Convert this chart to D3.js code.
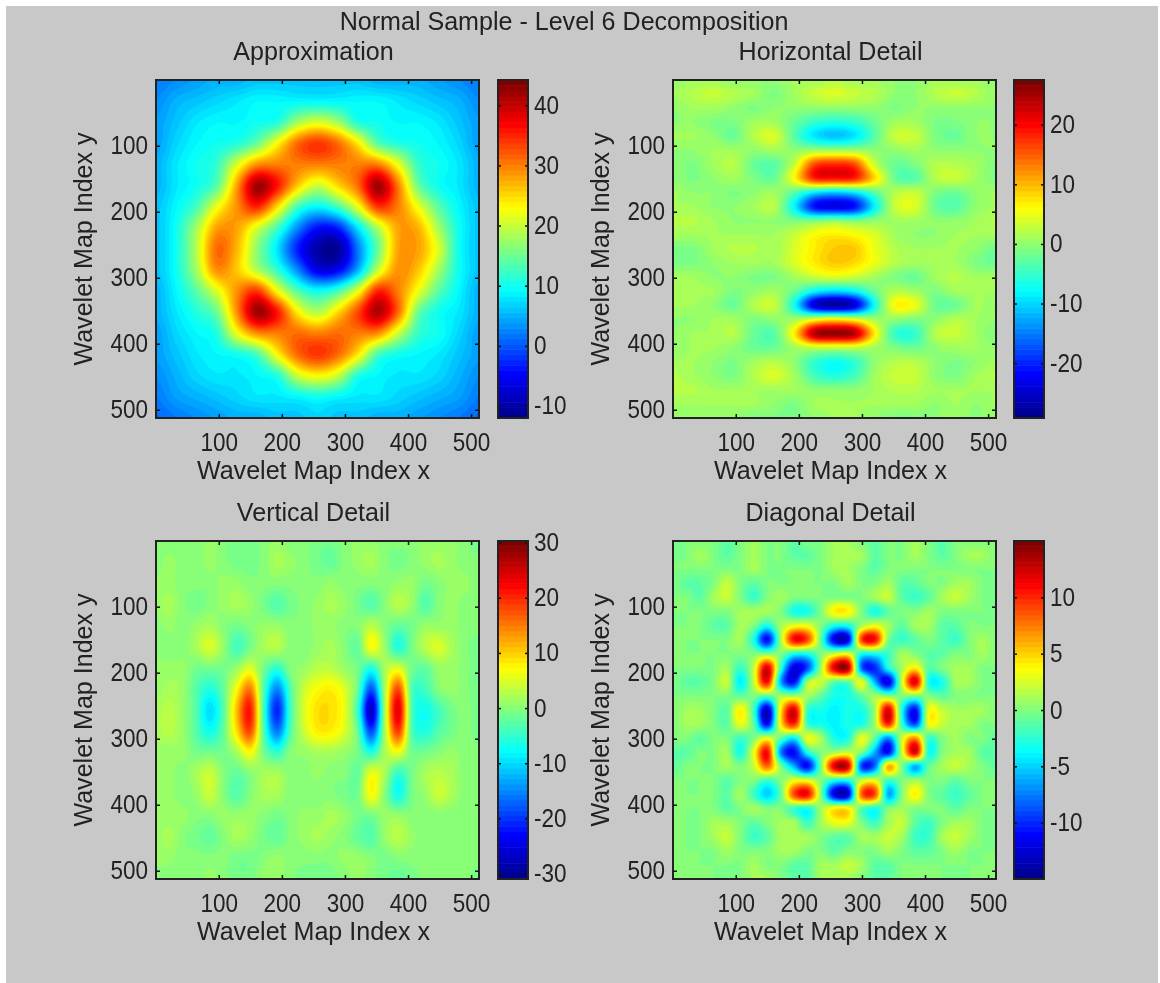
<!DOCTYPE html>
<html><head><meta charset="utf-8">
<script src="https://cdnjs.cloudflare.com/ajax/libs/d3/7.8.5/d3.min.js"></script>
<style>html,body{margin:0;padding:0;background:#fff}svg{display:block;filter:blur(0.55px)}
text{font-family:"Liberation Sans",Arial,sans-serif;fill:#222}</style></head><body>
<svg id="c" width="1160" height="983"></svg>
<script>
const figureTitle = "Normal Sample - Level 6 Decomposition";
const xLabel = "Wavelet Map Index x";
const yLabel = "Wavelet Map Index y";
const axisTicks = [100,200,300,400,500];
const panelTitles = ["Approximation","Horizontal Detail","Vertical Detail","Diagonal Detail"];
const colorTicks = [[-10,0,10,20,30,40],[-20,-10,0,10,20],[-30,-20,-10,0,10,20,30],[-10,-5,0,5,10]];
const colorRanges = [[-12,44.2],[-29.2,27.5],[-31,30.3],[-15,15]];
const jetStops = ["#00008f","#0000ff","#00ffff","#ffff00","#ff0000","#800000"];
const jetPositions = [0,0.125,0.375,0.625,0.875,1];

const approximation = [
[2,3,4,5,5,6,6,6,6,6,6,5,5,5,4,3,2],
[3,5,6,7,8,9,9,9,9,9,9,9,8,7,6,5,3],
[4,6,8,9,9,10,11,18,21,18,11,10,9,9,8,6,4],
[4,7,9,10,11,15,23,31,34,31,24,14,11,10,9,7,4],
[5,8,10,12,21,29,30,30,30,30,30,30,22,12,10,8,5],
[5,8,10,14,28,42,36,26,20,25,31,42,30,15,10,8,5],
[6,9,13,22,29,35,25,13,9,13,22,34,30,22,14,9,6],
[6,10,18,28,28,21,13,3,-4,-3,8,19,28,27,18,10,6],
[6,10,19,31,27,17,8,-3,-10,-11,2,15,28,28,21,10,6],
[6,10,18,29,26,19,12,3,-6,-5,5,20,29,26,18,10,6],
[5,9,14,21,29,34,23,14,10,13,22,35,30,22,14,9,5],
[5,8,11,15,29,42,36,24,19,25,33,41,31,15,10,8,5],
[4,7,9,11,22,29,30,31,30,31,30,29,20,12,10,7,4],
[4,6,8,9,10,13,23,31,34,31,24,13,10,9,8,6,4],
[3,5,7,8,8,9,11,20,23,20,11,9,8,8,7,5,3],
[2,4,5,6,7,8,8,9,10,9,8,8,7,6,5,4,2],
[1,2,3,4,5,5,6,6,7,6,6,5,5,4,3,2,1]];

const horizontalDetail = [
[0,1,1,0,0,0,1,1,2,1,1,0,0,1,1,1,0],
[1,2,3,2,1,-1,1,3,4,3,2,0,0,2,3,2,0],
[0,1,1,0,-1,0,0,0,0,0,0,-1,0,0,0,0,0],
[0,0,-1,-1,1,1,-2,-5,-6,-5,-2,1,1,-1,-1,0,0],
[1,1,0,-2,2,4,-3,-9,-11,-9,-3,3,3,-1,-2,0,0],
[0,0,1,1,0,1,0,1,1,1,0,0,1,0,0,0,0],
[0,-1,1,2,-2,-3,3,16,18,16,3,-2,-1,2,2,1,-1],
[0,-1,0,1,-1,-2,6,18,19,18,8,-2,-3,2,3,1,-1],
[1,0,0,-1,0,1,-3,-9,-11,-9,-3,2,3,-1,-2,0,1],
[1,1,0,0,1,2,-8,-21,-23,-21,-8,3,4,-2,-3,0,1],
[2,2,1,0,0,0,-1,-1,0,-1,0,1,1,0,0,1,2],
[1,1,1,1,1,1,3,6,7,6,4,1,0,0,1,1,1],
[-1,-1,1,2,2,1,4,7,9,9,5,2,1,1,1,0,-2],
[-1,-1,0,1,1,1,4,7,9,8,5,2,1,1,1,-1,-2],
[1,1,0,0,-1,-1,1,3,4,3,1,-1,-2,1,2,1,1],
[1,1,1,-1,0,1,-2,-8,-10,-8,-2,2,1,-1,1,1,1],
[1,1,0,-2,2,3,-7,-24,-28,-24,-7,6,5,-2,-2,1,0],
[0,0,1,1,-1,0,1,5,7,5,1,0,-1,0,2,1,0],
[0,1,1,2,-2,-3,7,24,26,24,7,-5,-5,2,3,1,-1],
[0,1,1,0,-2,-2,1,3,3,3,1,-1,-2,0,1,1,0],
[1,1,0,-1,1,2,0,-5,-7,-5,0,2,2,0,-1,0,1],
[2,1,0,-1,2,4,1,-4,-6,-4,1,3,3,0,-1,1,2],
[2,2,1,1,1,1,1,0,0,0,1,2,2,1,1,1,1],
[1,1,1,1,1,0,-1,1,1,1,1,1,1,0,1,0,1],
[0,0,0,0,-1,-1,-1,0,1,1,0,-1,-1,0,0,0,0]];

const verticalDetail = [
[0,0,0,0,1,0,-1,-1,0,1,0,0,-1,-1,0,1,1,0,0,0,1,1,1,0,-1],
[0,1,0,0,1,0,-1,-1,0,2,1,0,-1,-2,0,1,2,0,-1,0,1,2,1,0,0],
[1,1,0,0,0,1,1,0,0,0,0,0,0,1,0,0,0,0,1,1,-1,0,1,1,0],
[1,2,0,-1,0,1,2,1,-1,-3,-1,0,1,2,1,-1,-3,0,3,1,-3,0,1,0,0],
[0,1,0,1,2,0,-1,0,1,1,0,0,1,1,0,0,3,0,-2,-1,1,1,1,0,0],
[0,0,0,2,5,1,-4,-1,2,3,0,0,1,2,0,-2,7,1,-6,-1,3,5,2,0,-1],
[1,1,1,-1,-1,-1,1,5,-1,-5,0,1,3,3,1,-1,-6,2,5,-1,-2,1,1,0,-1],
[1,2,1,-3,-6,-2,7,15,-3,-15,-3,4,7,8,5,-2,-18,2,18,-3,-4,0,1,0,-1],
[2,3,1,-3,-10,-3,11,21,-4,-21,-4,5,9,9,6,-5,-27,2,24,-3,-7,-4,-1,0,-1],
[2,3,1,-3,-7,-2,9,18,-3,-16,-3,4,8,8,5,-2,-19,2,19,-3,-6,-3,-1,0,-1],
[1,1,1,-1,-1,-1,2,7,-1,-5,0,1,2,2,1,-1,-6,2,6,-1,-1,0,1,0,0],
[1,1,0,2,4,0,-2,0,2,2,0,0,1,0,0,-2,6,2,-5,-1,2,3,2,0,0],
[1,1,0,1,4,0,-3,0,2,2,0,0,0,0,-1,-1,7,0,-7,-1,1,4,2,0,0],
[1,1,1,0,0,1,1,1,0,-1,0,1,1,2,1,-1,-1,1,1,0,0,0,0,0,0],
[1,2,0,-1,-2,0,2,1,-1,-2,0,1,2,1,0,-2,-3,1,3,1,0,0,0,0,0],
[1,1,0,0,0,0,-1,-1,0,1,0,0,0,0,1,1,0,-1,0,0,0,0,0,0,0],
[0,0,0,0,1,0,-1,-1,1,1,0,-1,-1,-1,0,1,0,-1,-2,-1,0,0,0,0,-1]];

const diagonalDetail = [
[0,0,0,0,-1,0,1,0,0,-1,0,0,1,1,0,-1,0,0,1,0,-1,0,0,0,0],
[0,0,1,0,-1,0,1,0,0,-1,-1,0,1,1,1,-1,0,0,1,0,-1,0,1,1,0],
[0,0,0,0,0,0,1,0,0,0,0,0,1,1,0,-1,0,0,0,0,0,0,0,0,0],
[0,-1,-1,0,2,0,-1,0,0,0,0,0,0,1,0,0,1,-1,-1,0,0,1,1,0,0],
[0,0,-1,1,2,0,-2,0,1,0,0,0,0,0,0,1,2,-1,-2,-1,1,2,1,0,0],
[0,0,0,0,0,1,1,1,0,-3,-3,0,4,4,0,-3,-1,0,0,1,0,0,0,0,0],
[0,0,0,-1,-1,1,0,-3,1,3,3,0,-3,-3,1,3,1,-1,1,1,-1,-1,0,0,0],
[0,0,0,0,0,1,-3,-11,1,11,9,-1,-12,-12,9,11,0,-2,-1,0,-1,-2,0,1,0],
[0,0,0,0,0,0,0,0,0,-3,-3,0,2,3,-3,-3,-2,1,0,-1,-1,0,0,1,0],
[0,0,0,0,1,-2,2,12,-2,-12,-9,1,12,13,-8,-10,-3,1,4,-1,0,1,1,0,0],
[0,-1,-1,0,2,-4,2,11,-6,-11,1,2,-1,-1,3,-6,-12,2,12,-3,-3,1,1,0,0],
[0,0,0,0,0,-1,0,-1,1,1,1,-1,-3,-3,-1,1,0,0,0,0,-1,0,0,0,0],
[0,1,1,0,-1,4,-2,-13,4,12,-2,-3,-4,-3,-3,1,12,-3,-11,3,2,1,1,1,0],
[0,1,1,0,-1,3,-1,-11,4,10,-2,-3,-4,-3,-3,1,10,-2,-9,3,2,1,1,0,0],
[0,0,-1,0,0,-2,0,3,-1,-4,3,1,-3,-3,3,-1,-7,2,7,-2,0,1,0,0,-1],
[-1,-1,0,0,1,-3,3,11,-7,-11,-3,0,1,2,0,-6,-11,2,12,-3,0,1,1,-1,-1],
[-1,0,0,0,1,0,2,8,0,-6,-11,0,12,12,-9,-8,6,0,-6,-1,1,2,1,0,-1],
[0,0,0,0,-1,0,0,-2,0,3,3,0,-3,-3,2,3,-2,0,1,0,0,-1,0,0,0],
[0,0,0,0,-1,1,-2,-5,-1,9,11,0,-12,-12,8,9,-6,0,4,0,-1,-2,-1,0,0],
[0,0,0,0,-1,0,1,0,0,-2,-3,1,4,4,-1,-3,0,1,0,0,0,-1,0,0,0],
[0,0,0,1,1,0,-1,0,1,1,-2,1,3,3,0,-2,1,2,-1,-2,0,1,1,0,0],
[0,0,0,1,2,0,-2,-1,1,1,1,0,-1,-1,1,1,2,1,-2,-2,1,2,1,0,0],
[0,0,0,0,1,0,0,0,1,1,0,0,-1,0,0,0,1,0,-1,-1,0,1,0,0,0],
[0,0,0,0,0,0,1,0,0,-1,-1,1,1,2,1,-1,-1,0,0,0,0,0,0,0,0],
[0,0,0,0,0,0,1,1,0,-1,-1,1,1,1,0,-1,-1,0,0,0,0,0,0,0,0]];

const grids = [approximation,horizontalDetail,verticalDetail,diagonalDetail];

const svg = d3.select("#c");
svg.append("rect").attr("width",1160).attr("height",983).attr("fill","#fff");
svg.append("rect").attr("x",6).attr("y",6).attr("width",1152).attr("height",977).attr("fill","#c8c8c8");

const SX = 0.9, FS = 25, FST = 26, SXT = 0.965;
function label(g,s,x,y,size,rot){
  return g.append("text").text(s).attr("text-anchor","middle").attr("font-size",size)
    .attr("transform",`translate(${x},${y})`+(rot?` rotate(${rot})`:"")+` scale(${SXT},1)`);
}
label(svg,figureTitle,564,30,FST);

const jetBase = d3.scaleLinear().domain(jetPositions).range(jetStops).interpolate(d3.interpolateRgb);
const nColors = 64;
const jet = d3.range(nColors).map(i=>jetBase(i/(nColors-1)));

function catmull(a,b,c,d,t){
  return 0.5*((2*b)+(-a+c)*t+(2*a-5*b+4*c-d)*t*t+(-a+3*b-3*c+d)*t*t*t);
}
function upsample(grid,N){
  const R=grid.length,C=grid[0].length,out=new Float64Array(N*N);
  const cl=(v,n)=>Math.max(0,Math.min(n-1,v));
  for(let j=0;j<N;j++){
    const fy=j/(N-1)*(R-1),j0=Math.min(R-2,Math.floor(fy)),ty=fy-j0;
    for(let i=0;i<N;i++){
      const fx=i/(N-1)*(C-1),i0=Math.min(C-2,Math.floor(fx)),tx=fx-i0;
      const rows=[-1,0,1,2].map(dj=>{
        const r=grid[cl(j0+dj,R)];
        return catmull(r[cl(i0-1,C)],r[i0],r[i0+1],r[cl(i0+2,C)],tx);
      });
      out[j*N+i]=catmull(rows[0],rows[1],rows[2],rows[3],ty);
    }
  }
  return out;
}

const layout = [
 {x0:156,x1:479,y0:80,y1:418,cb:498},
 {x0:673,x1:996,y0:80,y1:418,cb:1014},
 {x0:156,x1:479,y0:541,y1:879,cb:498},
 {x0:673,x1:996,y0:541,y1:879,cb:1014}];
const N=201;

layout.forEach((p,k)=>{
  const g=svg.append("g");
  const x=d3.scaleLinear().domain([0.5,512.5]).range([p.x0,p.x1]);
  const y=d3.scaleLinear().domain([0.5,512.5]).range([p.y0,p.y1]);
  const [lo,hi]=colorRanges[k];
  const q=i=>lo+(hi-lo)*i/nColors;
  const levels=d3.range(1,nColors).map(q);
  const vals=upsample(grids[k],N);
  const toIdx=c=>0.5+512*(c-0.5)/(N-1);
  const path=d3.geoPath(d3.geoTransform({point(a,b){this.stream.point(x(toIdx(a)),y(toIdx(b)));}}));
  const clip=`clip${k}`;
  g.append("clipPath").attr("id",clip).append("rect").attr("x",p.x0).attr("y",p.y0).attr("width",p.x1-p.x0).attr("height",p.y1-p.y0);
  const img=g.append("g").attr("clip-path",`url(#${clip})`);
  img.append("rect").attr("x",p.x0).attr("y",p.y0).attr("width",p.x1-p.x0).attr("height",p.y1-p.y0).attr("fill",jet[0]);
  img.selectAll("path").data(d3.contours().size([N,N]).thresholds(levels)(Array.from(vals)))
    .join("path").attr("d",path).attr("fill",(d,i)=>jet[i+1]);

  const sz=p.x1-p.x0, sh=p.y1-p.y0;
  const styleAxis=s=>{s.select(".domain").remove();s.selectAll("line").attr("stroke","#111").attr("stroke-width",1.5);};
  const fixText=(s,dx,dy,anchor)=>{
    s.selectAll(".tick text").each(function(){
      d3.select(this).attr("x",null).attr("y",null).attr("dy",null).attr("text-anchor",anchor)
        .attr("font-size",FS).attr("font-family",null)
        .attr("transform",`translate(${dx},${dy}) scale(${SX},1)`);
    });
  };
  const plain=d=>String(d);
  const ax=g.append("g").attr("transform",`translate(0,${p.y1})`).call(d3.axisBottom(x).tickValues(axisTicks).tickSize(-4).tickFormat(plain));
  styleAxis(ax);fixText(ax,0,33,"middle");
  const axT=g.append("g").attr("transform",`translate(0,${p.y0})`).call(d3.axisTop(x).tickValues(axisTicks).tickSize(-4).tickFormat(""));
  styleAxis(axT);
  const ay=g.append("g").attr("transform",`translate(${p.x0},0)`).call(d3.axisLeft(y).tickValues(axisTicks).tickSize(-4).tickFormat(plain));
  styleAxis(ay);fixText(ay,-8,8,"end");
  const ayR=g.append("g").attr("transform",`translate(${p.x1},0)`).call(d3.axisRight(y).tickValues(axisTicks).tickSize(-4).tickFormat(""));
  styleAxis(ayR);
  g.append("rect").attr("x",p.x0).attr("y",p.y0).attr("width",sz).attr("height",sh).attr("fill","none").attr("stroke","#222").attr("stroke-width",2);

  const cx=(p.x0+p.x1)/2-4;
  label(g,panelTitles[k],cx,p.y0-20,FST);
  label(g,xLabel,cx,p.y1+61,FST);
  label(g,yLabel,p.x0-64,(p.y0+p.y1)/2,FST,-90);

  const cw=30, cs=d3.scaleLinear().domain([lo,hi]).range([p.y1,p.y0]);
  g.append("g").selectAll("rect").data(jet).join("rect")
    .attr("x",p.cb).attr("width",cw)
    .attr("y",(d,i)=>cs(q(i+1))).attr("height",(d,i)=>cs(q(i))-cs(q(i+1))+0.5).attr("fill",d=>d);
  const cr=g.append("g").attr("transform",`translate(${p.cb+cw},0)`).call(d3.axisRight(cs).tickValues(colorTicks[k]).tickSize(-3).tickFormat(plain));
  styleAxis(cr);fixText(cr,6,8,"start");
  const cl=g.append("g").attr("transform",`translate(${p.cb},0)`).call(d3.axisLeft(cs).tickValues(colorTicks[k]).tickSize(-3).tickFormat(""));
  styleAxis(cl);
  g.append("rect").attr("x",p.cb).attr("y",p.y0).attr("width",cw).attr("height",sh).attr("fill","none").attr("stroke","#222").attr("stroke-width",2);
});
</script></body></html>
